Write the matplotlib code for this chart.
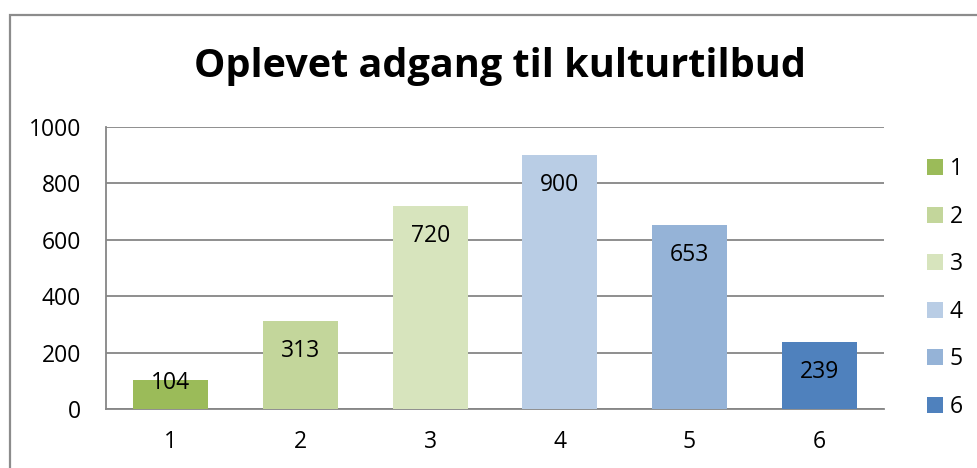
import matplotlib
matplotlib.use("Agg")
import matplotlib.pyplot as plt
from matplotlib.patches import Rectangle, Patch

categories = ["1", "2", "3", "4", "5", "6"]
values = [104, 313, 720, 900, 653, 239]
colors = ["#9BBB59", "#C3D69B", "#D7E4BD", "#B9CDE5", "#95B3D7", "#4F81BD"]
title = "Oplevet adgang til kulturtilbud"
yticks = [0, 200, 400, 600, 800, 1000]

plt.rcParams['font.family'] = ['Open Sans', 'DejaVu Sans']
W, H = 978, 468
fig = plt.figure(figsize=(W / 100, H / 100), dpi=100)

# outer chart border
fig.patches.append(Rectangle((10 / W, -0.5), 2.0, 1.5 - 14.5 / H, transform=fig.transFigure,
                             fill=False, edgecolor="#8c8c8c", linewidth=1.6))

ax = fig.add_axes([106 / W, 1 - 409 / H, (884 - 106) / W, (409 - 127) / H])
x = list(range(len(categories)))
bars = ax.bar(x, values, width=0.58, color=colors, zorder=3)
ax.set_xlim(-0.5, len(categories) - 0.5)
ax.set_ylim(0, 1000)
ax.set_yticks(yticks)
ax.set_xticks(x)
ax.set_xticklabels(categories)
ax.grid(axis="y", color="#868686", linewidth=1.3, zorder=0)
for s in ["top", "right"]:
    ax.spines[s].set_visible(False)
for s in ["left", "bottom"]:
    ax.spines[s].set_color("#868686")
    ax.spines[s].set_linewidth(1.3)
ax.tick_params(length=0, labelsize=16.5, colors="black")
ax.tick_params(axis="y", pad=18)
ax.tick_params(axis="x", pad=15)

for xi, v in zip(x, values):
    px = v * 282 / 1000
    off = -30 if px > 60 else -3
    ax.annotate(str(v), (xi, v), xytext=(0, off * 0.72), textcoords="offset points",
                ha="center", va="center", fontsize=16.5, zorder=4)

fig.text(500 / W, 1 - 67 / H, title, ha="center", va="center", fontsize=28.5, fontweight="bold")

handles = [Patch(facecolor=c, edgecolor="none") for c in colors]
fig.legend(handles, categories, loc="upper left", bbox_to_anchor=(927 / W, 1 - 157 / H),
           frameon=False, fontsize=16.5, handlelength=0.7, handleheight=0.7,
           handletextpad=0.3, labelspacing=1.03, borderaxespad=0, borderpad=0)

fig.savefig("out.png", dpi=100)
